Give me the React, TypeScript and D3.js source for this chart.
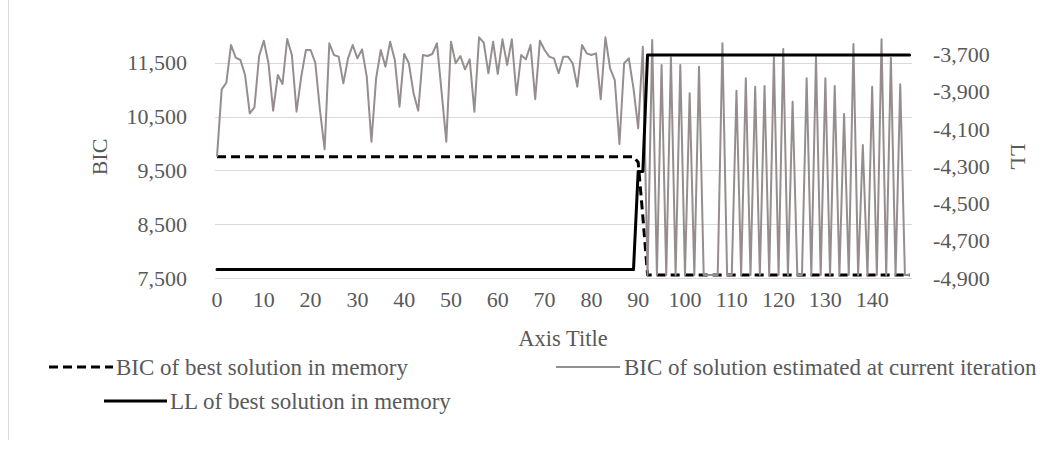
import React from "react";
import * as d3 from "d3";

const iterations: number[] = d3.range(0, 149);

const bicCurrent: number[] = [
  9755, 11007, 11130, 11831, 11595, 11552, 11273, 10560, 10671, 11626,
  11911, 11491, 10610, 11273, 11106, 11942, 11645, 10591, 11242, 11738,
  11738, 11502, 10623, 9892, 11862, 11645, 11614, 11118, 11583, 11831,
  11583, 11750, 11242, 10034, 11211, 11738, 11428, 11893, 11552, 10684,
  11664, 11491, 10932, 10610, 11645, 11626, 11664, 11862, 10950, 10034,
  11893, 11491, 11626, 11379, 11564, 10591, 11973, 11874, 11305, 11893,
  11292, 11936, 11459, 11936, 10901, 11645, 11564, 11831, 10822, 11911,
  11738, 11614, 11583, 11305, 11614, 11614, 11491, 11056, 11831, 11676,
  11645, 11676, 10822, 11973, 11398, 11180, 9991, 11491, 11583, 11026,
  10283, 11800, 7556, 11924, 7556, 11459, 7556, 11602, 7556, 11459,
  7556, 10932, 7556, 11428, 7556, 7556, 7556, 7556, 11862, 7556,
  7556, 10982, 7556, 11211, 7556, 11056, 7556, 11069, 7556, 11602,
  7556, 11756, 7556, 10777, 7556, 7556, 11211, 7556, 11614, 7556,
  11211, 7556, 11069, 7556, 10548, 7556, 11850, 7556, 9972, 7556,
  11056, 7556, 11936, 7556, 11595, 7556, 11100, 7556, 7556,
];

const bicBest: number[] = [
  9755, 9755, 9755, 9755, 9755, 9755, 9755, 9755, 9755, 9755,
  9755, 9755, 9755, 9755, 9755, 9755, 9755, 9755, 9755, 9755,
  9755, 9755, 9755, 9755, 9755, 9755, 9755, 9755, 9755, 9755,
  9755, 9755, 9755, 9755, 9755, 9755, 9755, 9755, 9755, 9755,
  9755, 9755, 9755, 9755, 9755, 9755, 9755, 9755, 9755, 9755,
  9755, 9755, 9755, 9755, 9755, 9755, 9755, 9755, 9755, 9755,
  9755, 9755, 9755, 9755, 9755, 9755, 9755, 9755, 9755, 9755,
  9755, 9755, 9755, 9755, 9755, 9755, 9755, 9755, 9755, 9755,
  9755, 9755, 9755, 9755, 9755, 9755, 9755, 9755, 9755, 9755,
  9650, 8640, 7556, 7556, 7556, 7556, 7556, 7556, 7556, 7556,
  7556, 7556, 7556, 7556, 7556, 7556, 7556, 7556, 7556, 7556,
  7556, 7556, 7556, 7556, 7556, 7556, 7556, 7556, 7556, 7556,
  7556, 7556, 7556, 7556, 7556, 7556, 7556, 7556, 7556, 7556,
  7556, 7556, 7556, 7556, 7556, 7556, 7556, 7556, 7556, 7556,
  7556, 7556, 7556, 7556, 7556, 7556, 7556, 7556, 7556,
];

const llBest: number[] = [
  -4855, -4855, -4855, -4855, -4855, -4855, -4855, -4855, -4855, -4855,
  -4855, -4855, -4855, -4855, -4855, -4855, -4855, -4855, -4855, -4855,
  -4855, -4855, -4855, -4855, -4855, -4855, -4855, -4855, -4855, -4855,
  -4855, -4855, -4855, -4855, -4855, -4855, -4855, -4855, -4855, -4855,
  -4855, -4855, -4855, -4855, -4855, -4855, -4855, -4855, -4855, -4855,
  -4855, -4855, -4855, -4855, -4855, -4855, -4855, -4855, -4855, -4855,
  -4855, -4855, -4855, -4855, -4855, -4855, -4855, -4855, -4855, -4855,
  -4855, -4855, -4855, -4855, -4855, -4855, -4855, -4855, -4855, -4855,
  -4855, -4855, -4855, -4855, -4855, -4855, -4855, -4855, -4855, -4855,
  -4328, -4328, -3702, -3702, -3702, -3702, -3702, -3702, -3702, -3702,
  -3702, -3702, -3702, -3702, -3702, -3702, -3702, -3702, -3702, -3702,
  -3702, -3702, -3702, -3702, -3702, -3702, -3702, -3702, -3702, -3702,
  -3702, -3702, -3702, -3702, -3702, -3702, -3702, -3702, -3702, -3702,
  -3702, -3702, -3702, -3702, -3702, -3702, -3702, -3702, -3702, -3702,
  -3702, -3702, -3702, -3702, -3702, -3702, -3702, -3702, -3702,
];

const leftTicks: number[] = [7500, 8500, 9500, 10500, 11500];
const rightTicks: number[] = [-4900, -4700, -4500, -4300, -4100, -3900, -3700];
const xTicks: number[] = [0, 10, 20, 30, 40, 50, 60, 70, 80, 90, 100, 110, 120, 130, 140];

const seriesNames = [
  "BIC of best solution in memory",
  "BIC of solution estimated at current iteration",
  "LL of best solution in memory",
];

const W = 1052;
const H = 470;
const FONT = "'Liberation Serif', 'Times New Roman', serif";
const TEXT = "#595959";
const GRAY = "#968e8e";
const FS = 22;
const LFS = 23;

const fmt = (v: number) => (v < 0 ? "-" : "") + d3.format(",")(Math.abs(v));

export default function App() {
  const x = d3.scaleLinear().domain([0, 148]).range([217, 909.6]);
  const yL = d3.scaleLinear().domain([7500, 12000]).range([278, 35.9]);
  const yR = d3.scaleLinear().domain([-4900, -3600]).range([278, 35.9]);

  const lineL = d3
    .line<number>()
    .x((_, i) => x(iterations[i]))
    .y((d) => yL(d));
  const lineR = d3
    .line<number>()
    .x((_, i) => x(iterations[i]))
    .y((d) => yR(d));

  const plotLeft = 215;
  const plotRight = 912;

  return (
    <svg
      width={W}
      height={H}
      style={{ position: "absolute", left: 0, top: 0, background: "#fff" }}
      fontFamily={FONT}
    >
      <rect x={0} y={0} width={W} height={H} fill="#fff" />
      <line x1={8.5} y1={0} x2={8.5} y2={440} stroke="#d9d9d9" strokeWidth={1} />

      {leftTicks.map((t) => (
        <line
          key={"g" + t}
          x1={plotLeft}
          x2={plotRight}
          y1={Math.round(yL(t)) + 0.5}
          y2={Math.round(yL(t)) + 0.5}
          stroke="#d9d9d9"
          strokeWidth={1}
        />
      ))}

      {leftTicks.map((t) => (
        <text
          key={"l" + t}
          x={187}
          y={yL(t) + 7.5}
          textAnchor="end"
          fontSize={FS}
          fill={TEXT}
        >
          {fmt(t)}
        </text>
      ))}
      {rightTicks.map((t) => (
        <text
          key={"r" + t}
          x={933}
          y={yR(t) + 7.5}
          textAnchor="start"
          fontSize={FS}
          fill={TEXT}
        >
          {fmt(t)}
        </text>
      ))}
      {xTicks.map((t) => (
        <text
          key={"x" + t}
          x={x(t)}
          y={307}
          textAnchor="middle"
          fontSize={FS}
          fill={TEXT}
        >
          {t}
        </text>
      ))}

      <text
        transform={`translate(107,157) rotate(-90)`}
        textAnchor="middle"
        fontSize={FS}
        fill={TEXT}
      >
        BIC
      </text>
      <text
        transform={`translate(1011,157) rotate(90)`}
        textAnchor="middle"
        fontSize={FS}
        fill={TEXT}
      >
        LL
      </text>
      <text x={563} y={345.5} textAnchor="middle" fontSize={22.5} fill={TEXT}>
        Axis Title
      </text>

      <path
        d={lineL(bicBest) || ""}
        fill="none"
        stroke="#000"
        strokeWidth={3}
        strokeDasharray="9 5"
        strokeLinejoin="round"
      />
      <path
        d={lineL(bicCurrent) || ""}
        fill="none"
        stroke={GRAY}
        strokeWidth={2}
        strokeLinejoin="round"
      />
      <path
        d={lineR(llBest) || ""}
        fill="none"
        stroke="#000"
        strokeWidth={3}
        strokeLinejoin="round"
        strokeLinecap="round"
      />

      {/* legend */}
      <line x1={49} x2={113} y1={367} y2={367} stroke="#000" strokeWidth={3} strokeDasharray="9 5" />
      <text x={116} y={375} fontSize={LFS} fill={TEXT}>
        {seriesNames[0]}
      </text>
      <line x1={556} x2={620} y1={367} y2={367} stroke={GRAY} strokeWidth={2} />
      <text x={624} y={375} fontSize={LFS} fill={TEXT}>
        {seriesNames[1]}
      </text>
      <line x1={104} x2={167} y1={401} y2={401} stroke="#000" strokeWidth={3} />
      <text x={170} y={409} fontSize={LFS} fill={TEXT}>
        {seriesNames[2]}
      </text>
    </svg>
  );
}
